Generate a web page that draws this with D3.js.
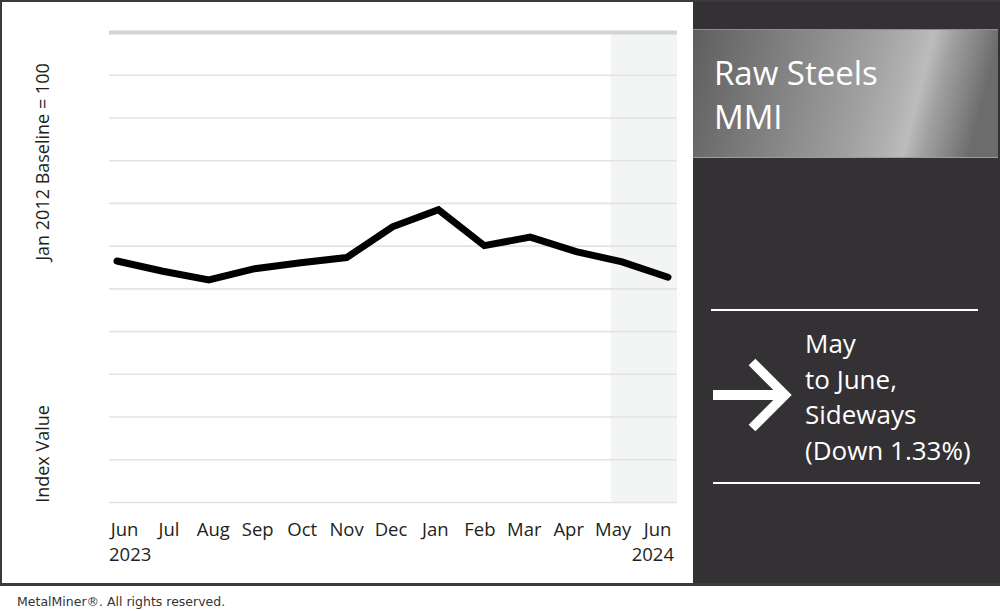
<!DOCTYPE html>
<html>
<head>
<meta charset="utf-8">
<script src="https://cdn.jsdelivr.net/npm/d3@7"></script>
<style>
  html, body { margin: 0; padding: 0; background: #ffffff; }
  svg { display: block; }
</style>
</head>
<body>
<svg id="chart" width="1000" height="611"></svg>
<script>
// ---- data ----
const months = ["Jun", "Jul", "Aug", "Sep", "Oct", "Nov", "Dec", "Jan", "Feb", "Mar", "Apr", "May", "Jun "];
const monthLabels = ["Jun", "Jul", "Aug", "Sep", "Oct", "Nov", "Dec", "Jan", "Feb", "Mar", "Apr", "May", "Jun"];
const indexValues = [138.2, 137.0, 136.0, 137.3, 138.0, 138.6, 142.2, 144.2, 140.0, 141.0, 139.3, 138.1, 136.3];
const yearLabels = ["2023", "2024"];
const yTicks = [110, 115, 120, 125, 130, 135, 140, 145, 150, 155, 160, 165];
const titleLines = ["Raw Steels", "MMI"];
const summaryLines = ["May", "to June,", "Sideways", "(Down 1.33%)"];
const yTitleTop = "Jan 2012 Baseline = 100";
const yTitleBottom = "Index Value";
const footer = "MetalMiner\u00AE. All rights reserved.";

// ---- layout ----
const W = 1000, H = 611;
const panelX = 693;
const plot = { left: 109, right: 677, top: 32, bottom: 502 };
const font = "'Open Sans', 'Noto Sans', sans-serif";

const svg = d3.select("#chart");

// frame, white plot panel, dark side panel
svg.append("rect").attr("x", 0).attr("y", 0).attr("width", W).attr("height", 586).attr("fill", "#3c3b3c");
svg.append("rect").attr("x", 2).attr("y", 2).attr("width", panelX - 2).attr("height", 581).attr("fill", "#ffffff");
svg.append("rect").attr("x", panelX).attr("y", 2).attr("width", W - panelX).attr("height", 581).attr("fill", "#333133");

// scales
const x = d3.scalePoint().domain(months).range([117, 668]);
const xLab = d3.scalePoint().domain(months).range([124, 657]);
const y = d3.scaleLinear().domain([110, 165]).range([plot.bottom, plot.top]);

// shaded latest-period band
const step = x.step();
const bandX = x(months[11]) - step * 0.25;
svg.append("rect")
  .attr("x", bandX)
  .attr("y", y(165) + 2)
  .attr("width", plot.right - bandX)
  .attr("height", y(110) - y(165) - 2)
  .attr("fill", "#f3f4f4");

// gridlines
const grid = svg.append("g").attr("transform", `translate(${plot.left},0)`)
  .call(d3.axisLeft(y).tickValues(yTicks).tickSize(-(plot.right - plot.left)).tickFormat(""));
grid.select(".domain").remove();
grid.selectAll(".tick line")
  .attr("stroke", d => d === 165 ? "#d3d3d3" : "#e3e3e3")
  .attr("stroke-width", d => d === 165 ? 4 : 1.6);

// line
const line = d3.line().x((d, i) => x(months[i])).y(d => y(d));
svg.append("path")
  .datum(indexValues)
  .attr("d", line)
  .attr("fill", "none")
  .attr("stroke", "#000000")
  .attr("stroke-width", 7)
  .attr("stroke-linejoin", "miter")
  .attr("stroke-linecap", "round");

// x axis labels
const xAxis = svg.append("g").attr("transform", `translate(0,${plot.bottom})`)
  .call(d3.axisBottom(xLab).tickSize(0).tickPadding(0).tickFormat((d, i) => monthLabels[i]));
xAxis.select(".domain").remove();
xAxis.selectAll(".tick text")
  .attr("y", 34)
  .attr("dy", 0)
  .attr("fill", "#231f20")
  .style("font-family", font)
  .style("font-size", "18.5px");

svg.append("text").attr("x", plot.left).attr("y", 561)
  .attr("fill", "#231f20").style("font-family", font).style("font-size", "18.5px")
  .text(yearLabels[0]);
svg.append("text").attr("x", 674).attr("y", 561).attr("text-anchor", "end")
  .attr("fill", "#231f20").style("font-family", font).style("font-size", "18.5px")
  .text(yearLabels[1]);

// y titles
svg.append("text")
  .attr("transform", "translate(49,162) rotate(-90)")
  .attr("text-anchor", "middle")
  .attr("fill", "#231f20").style("font-family", font).style("font-size", "18px")
  .text(yTitleTop);
svg.append("text")
  .attr("transform", "translate(49,454) rotate(-90)")
  .attr("text-anchor", "middle")
  .attr("fill", "#231f20").style("font-family", font).style("font-size", "18px")
  .text(yTitleBottom);

// metallic title box
const defs = svg.append("defs");
const grad = defs.append("linearGradient").attr("id", "metal")
  .attr("x1", 0).attr("y1", 0).attr("x2", 1).attr("y2", 0.11);
[[0, "#5e5e5f"], [0.3, "#7f7f80"], [0.6, "#a0a0a1"], [0.72, "#b0b0b1"], [0.785, "#bcbcbd"], [0.85, "#a0a0a1"], [0.94, "#828283"], [1, "#6c6c6d"]]
  .forEach(([o, c]) => grad.append("stop").attr("offset", o).attr("stop-color", c));
svg.append("rect").attr("x", panelX).attr("y", 29).attr("width", W - panelX - 2).attr("height", 129)
  .attr("fill", "url(#metal)");
svg.append("line").attr("x1", panelX).attr("x2", W - 2).attr("y1", 29.5).attr("y2", 29.5)
  .attr("stroke", "#8e8e8f").attr("stroke-width", 1);
svg.append("line").attr("x1", panelX).attr("x2", W - 2).attr("y1", 157.5).attr("y2", 157.5)
  .attr("stroke", "#9c9c9d").attr("stroke-width", 1);

svg.append("g").selectAll("text").data(titleLines).join("text")
  .attr("x", 714).attr("y", (d, i) => 85 + i * 44)
  .attr("fill", "#ffffff").style("font-family", font).style("font-size", "33px")
  .text(d => d);

// summary block
svg.append("line").attr("x1", 711).attr("x2", 978).attr("y1", 310).attr("y2", 310)
  .attr("stroke", "#ffffff").attr("stroke-width", 2);
svg.append("line").attr("x1", 713).attr("x2", 980).attr("y1", 483).attr("y2", 483)
  .attr("stroke", "#ffffff").attr("stroke-width", 2);

svg.append("line").attr("x1", 713).attr("x2", 784).attr("y1", 395).attr("y2", 395)
  .attr("stroke", "#ffffff").attr("stroke-width", 10);
svg.append("path").attr("d", "M752,362 L785,395 L752,428")
  .attr("fill", "none").attr("stroke", "#ffffff").attr("stroke-width", 9.5).attr("stroke-linejoin", "miter");

svg.append("g").selectAll("text").data(summaryLines).join("text")
  .attr("x", 805).attr("y", (d, i) => 353 + i * 35.5)
  .attr("fill", "#ffffff").style("font-family", font).style("font-size", "26px")
  .text(d => d);

// footer
svg.append("text").attr("x", 17).attr("y", 606)
  .attr("fill", "#333333").style("font-family", "'DejaVu Sans', Verdana, sans-serif").style("font-size", "12.5px")
  .text(footer);
</script>
</body>
</html>
